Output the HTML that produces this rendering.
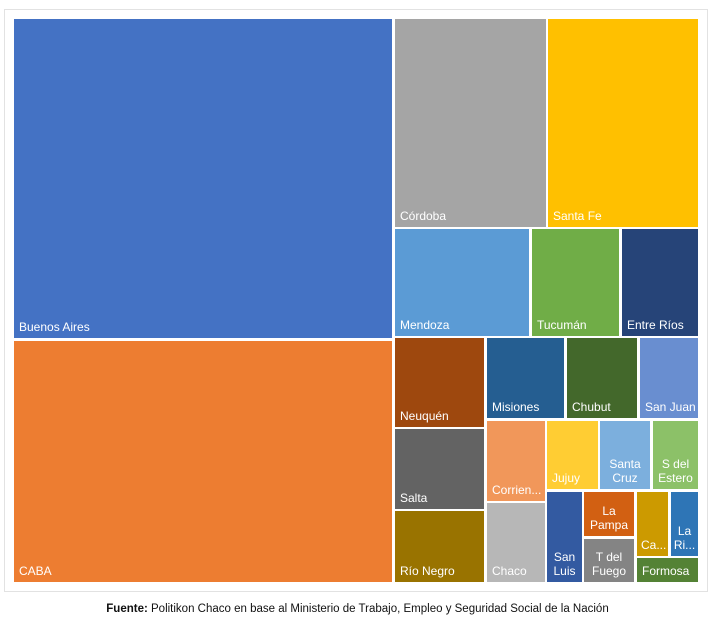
<!DOCTYPE html>
<html><head><meta charset="utf-8"><style>
body{margin:0;width:715px;height:636px;background:#fff;position:relative;overflow:hidden;font-family:"Liberation Sans",sans-serif}
.frame{position:absolute;left:4px;top:9px;width:704px;height:583px;border:1px solid #e2e2e2;box-sizing:border-box}
.r{position:absolute;color:#fff;font-size:12px;box-sizing:border-box}
.r span{position:absolute;left:5px;bottom:4px;line-height:14px}
.c span{left:0;right:0;text-align:center}
.foot{position:absolute;top:603px;left:0;width:715px;text-align:center;font-size:11.5px;color:#111}
</style></head><body>
<div class="frame"></div>
<div class="r" style="left:14px;top:19px;width:378px;height:319px;background:#4472c4"><span>Buenos Aires</span></div>
<div class="r" style="left:14px;top:341px;width:378px;height:241px;background:#ed7d31"><span>CABA</span></div>
<div class="r" style="left:395px;top:19px;width:151px;height:208px;background:#a5a5a5"><span>Córdoba</span></div>
<div class="r" style="left:548px;top:19px;width:150px;height:208px;background:#ffc000"><span>Santa Fe</span></div>
<div class="r" style="left:395px;top:229px;width:134px;height:107px;background:#5b9bd5"><span>Mendoza</span></div>
<div class="r" style="left:532px;top:229px;width:87px;height:107px;background:#70ad47"><span>Tucumán</span></div>
<div class="r" style="left:622px;top:229px;width:76px;height:107px;background:#264478"><span>Entre Ríos</span></div>
<div class="r" style="left:395px;top:338px;width:89px;height:89px;background:#9e480e"><span>Neuquén</span></div>
<div class="r" style="left:395px;top:429px;width:89px;height:80px;background:#636363"><span>Salta</span></div>
<div class="r" style="left:395px;top:511px;width:89px;height:71px;background:#997300"><span>Río Negro</span></div>
<div class="r" style="left:487px;top:338px;width:77px;height:80px;background:#255e91"><span>Misiones</span></div>
<div class="r" style="left:567px;top:338px;width:70px;height:80px;background:#43682b"><span>Chubut</span></div>
<div class="r" style="left:640px;top:338px;width:58px;height:80px;background:#698ed0"><span>San Juan</span></div>
<div class="r" style="left:487px;top:421px;width:58px;height:80px;background:#f1975a"><span>Corrien...</span></div>
<div class="r" style="left:487px;top:503px;width:58px;height:79px;background:#b7b7b7"><span>Chaco</span></div>
<div class="r" style="left:547px;top:421px;width:51px;height:68px;background:#ffcd33"><span>Jujuy</span></div>
<div class="r c" style="left:600px;top:421px;width:50px;height:68px;background:#7cafdd"><span>Santa<br>Cruz</span></div>
<div class="r c" style="left:653px;top:421px;width:45px;height:68px;background:#8cc168"><span>S del<br>Estero</span></div>
<div class="r c" style="left:547px;top:492px;width:35px;height:90px;background:#335aa1"><span>San<br>Luis</span></div>
<div class="r c" style="left:584px;top:492px;width:50px;height:44px;background:#d26012"><span>La<br>Pampa</span></div>
<div class="r c" style="left:584px;top:539px;width:50px;height:43px;background:#848484"><span>T del<br>Fuego</span></div>
<div class="r" style="left:637px;top:492px;width:31px;height:64px;background:#cc9a00"><span style="left:4px">Ca...</span></div>
<div class="r c" style="left:671px;top:492px;width:27px;height:64px;background:#2e75b6"><span>La<br>Ri...</span></div>
<div class="r" style="left:637px;top:558px;width:61px;height:24px;background:#548235"><span style="bottom:4px">Formosa</span></div>
<div class="foot"><b>Fuente:</b> Politikon Chaco en base al Ministerio de Trabajo, Empleo y Seguridad Social de la Nación</div>
</body></html>
